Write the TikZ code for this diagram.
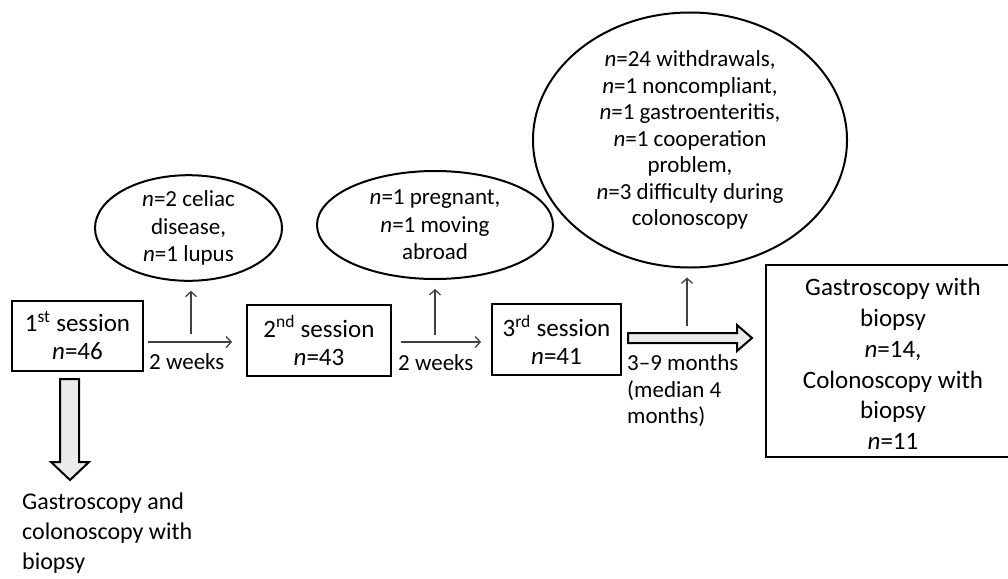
\documentclass[tikz,border=0pt]{standalone}
\usepackage{fontspec}
\setmainfont{Carlito}
\usetikzlibrary{shapes.geometric,arrows.meta}

\begin{document}
\begin{tikzpicture}[x=1pt, y=-1pt,
    box/.style={draw, line width=2pt, inner sep=0pt, align=center, font=\fontsize{25}{28}\selectfont},
    bubble/.style={draw, ellipse, line width=2pt, inner sep=0pt, align=center, font=\fontsize{23}{27.5}\selectfont},
    lbl/.style={inner sep=0pt, align=left, font=\fontsize{23}{26.5}\selectfont},
    thin arrow/.style={black!75, line width=1.3pt, -{Straight Barb[length=5pt,width=11pt]}},
    fat arrow/.style={draw, line width=2pt, fill=black!8, line join=miter}]
    \useasboundingbox (0,0) rectangle (1008,578);
    \node[box, minimum width=131pt, minimum height=70pt] (s1) at (77.5,336) {1\textsuperscript{st} session\\\textit{n}=46};
    \node[box, minimum width=144pt, minimum height=71pt] (s2) at (319,340.5) {2\textsuperscript{nd} session\\\textit{n}=43};
    \node[box, minimum width=129pt, minimum height=71pt] (s3) at (556.5,339.5) {3\textsuperscript{rd} session\\\textit{n}=41};
    \node[box, draw=none, minimum width=252pt, minimum height=190pt, font=\fontsize{25}{30.8}\selectfont] (out) at (893,364)
      {Gastroscopy with\\biopsy\\\textit{n}=14,\\Colonoscopy with\\biopsy\\\textit{n}=11};
    \draw[line width=2pt] ([yshift=3pt]out.north east) -- ([yshift=3pt]out.north west) -- ([yshift=3pt]out.south west) -- ([yshift=3pt]out.south east);
    \node[bubble, minimum width=187pt, minimum height=102pt] (e1) at (188.5,228) {\textit{n}=2 celiac\\disease,\\\textit{n}=1 lupus};
    \node[bubble, minimum width=236pt, minimum height=108pt] (e2) at (435,225) {\textit{n}=1 pregnant,\\\textit{n}=1 moving\\abroad};
    \node[bubble, minimum width=314pt, minimum height=255pt, font=\fontsize{23}{26.5}\selectfont] (e3) at (690,140)
      {\textit{n}=24 withdrawals,\\\textit{n}=1 noncompliant,\\\textit{n}=1 gastroenteritis,\\\textit{n}=1 cooperation\\problem,\\\textit{n}=3 difficulty during\\colonoscopy};
    \node[lbl, anchor=west] (w1) at (149,362) {2 weeks};
    \node[lbl, anchor=west] (w2) at (398,363) {2 weeks};
    \node[lbl, anchor=west] (w3) at (627,391) {3--9 months\\(median 4\\months)};
    \node[lbl, anchor=west, font=\fontsize{24}{30}\selectfont] (first) at (22,533) {Gastroscopy and\\colonoscopy with\\biopsy};
    \draw[thin arrow, shorten <=4pt, shorten >=14pt] (s1.east |- 0,342) -- (s2.west |- 0,342);
    \draw[thin arrow, shorten <=9pt, shorten >=10pt] (s2.east |- 0,342) -- (s3.west |- 0,342);
    \coordinate (m1) at (191,334);
    \coordinate (m2) at (435,335);
    \coordinate (m3) at (687,326);
    \foreach \m/\e in {m1/e1, m2/e2, m3/e3}{
      \draw[thin arrow, shorten >=9pt] (\m) -- (\m |- \e.south);
    }
    \draw[fat arrow] (628,333) -- (737,333) -- (737,325) -- (752,338) -- (737,351) -- (737,343) -- (628,343) -- cycle;
    \draw[fat arrow] (60,379) -- (79,379) -- (79,462) -- (89,462) -- (70,480) -- (51,462) -- (60,462) -- cycle;
  \end{tikzpicture}
\end{document}
